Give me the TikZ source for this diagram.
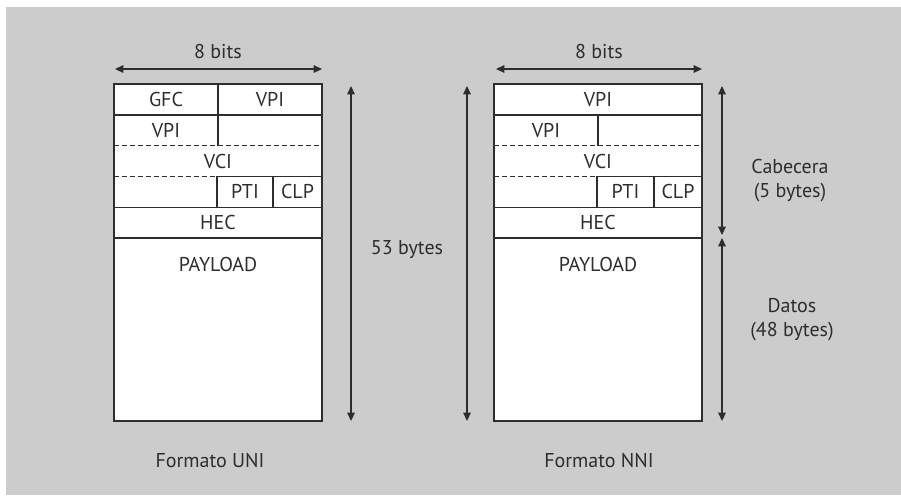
\documentclass[tikz,border=0pt]{standalone}
\usepackage{fontspec}
\setmainfont{PT Sans}
\usepackage{tikz}
\usetikzlibrary{arrows.meta}
\definecolor{bggrey}{RGB}{204,204,204}
\definecolor{inkgrey}{RGB}{45,45,45}

\begin{document}
\begin{tikzpicture}[
  x=0.5pt, y=-0.5pt,
  font=\fontsize{10}{12}\selectfont,
  lbl/.style={inner sep=0pt, text=inkgrey, align=center},
  cellframe/.style={draw=inkgrey, line width=0.7pt, fill=white},
  rule/.style={draw=inkgrey, line width=0.7pt},
  dsh/.style={rule, dash pattern=on 2.5pt off 1.5pt},
  dimar/.style={{Triangle[length=4.2pt,width=3.8pt]}-{Triangle[length=4.2pt,width=3.8pt]}, draw=inkgrey, line width=0.6pt}
]
% ---- background -------------------------------------------------------------
\useasboundingbox (0,0) rectangle (901,495);
\fill[bggrey] (6,7) rectangle (901,495);

% ---- UNI cell ---------------------------------------------------------------
\draw[cellframe] (114,84) rectangle (322,421);
\draw[rule] (114,114.8) -- (322,114.8);
\draw[rule] (218,84) -- (218,145.6);
\draw[dsh] (114,145.6) -- (322,145.6);
\draw[dsh] (114,176.4) -- (217,176.4);
\draw[rule] (217,176.4) -- (322,176.4);
\draw[rule] (217,176.4) -- (217,207.2);
\draw[rule] (273,176.4) -- (273,207.2);
\draw[rule] (114,207.2) -- (322,207.2);
\draw[rule] (114,238) -- (322,238);

\node[lbl] (gfcU) at (166,99.4) {GFC};
\node[lbl] (vpiUa) at (270,99.4) {VPI};
\node[lbl] (vpiUb) at (166,130.2) {VPI};
\node[lbl] (vciU) at (218,161) {VCI};
\node[lbl] (ptiU) at (245,191.8) {PTI};
\node[lbl] (clpU) at (297.5,191.8) {CLP};
\node[lbl] (hecU) at (218,222.6) {HEC};
\node[lbl] (payU) at (218,264) {PAYLOAD};
\node[lbl] (fmtU) at (210,460) {Formato UNI};

% ---- NNI cell ---------------------------------------------------------------
\draw[cellframe] (494,84) rectangle (702,421);
\draw[rule] (494,114.8) -- (702,114.8);
\draw[rule] (598,114.8) -- (598,145.6);
\draw[dsh] (494,145.6) -- (702,145.6);
\draw[dsh] (494,176.4) -- (597,176.4);
\draw[rule] (597,176.4) -- (702,176.4);
\draw[rule] (597,176.4) -- (597,207.2);
\draw[rule] (654,176.4) -- (654,207.2);
\draw[rule] (494,207.2) -- (702,207.2);
\draw[rule] (494,238) -- (702,238);

\node[lbl] (vpiNa) at (598,99.4) {VPI};
\node[lbl] (vpiNb) at (546,130.2) {VPI};
\node[lbl] (vciN) at (598,161) {VCI};
\node[lbl] (ptiN) at (625.5,191.8) {PTI};
\node[lbl] (clpN) at (678,191.8) {CLP};
\node[lbl] (hecN) at (598,222.6) {HEC};
\node[lbl] (payN) at (598,264) {PAYLOAD};
\node[lbl] (fmtN) at (599,460) {Formato NNI};

% ---- dimensions -------------------------------------------------------------
\node[lbl] (bitsU) at (218,51) {8 bits};
\node[lbl] (bitsN) at (599,51) {8 bits};
\node[lbl] (total) at (407,250) {53 bytes};
\node[lbl] (head) at (790,181) {Cabecera\\(5 bytes)};
\node[lbl] (data) at (792,320) {Datos\\(48 bytes)};

\coordinate (bitsUl) at (115,69);
\coordinate (bitsUr) at (322,69);
\coordinate (bitsNl) at (496,69);
\coordinate (bitsNr) at (702,69);
\coordinate (totUt) at (351,86);
\coordinate (totUb) at (351,421);
\coordinate (totNt) at (467,86);
\coordinate (totNb) at (467,421);
\coordinate (headt) at (722,86);
\coordinate (headb) at (722,235);
\coordinate (datat) at (722,238);
\coordinate (datab) at (722,421);

\draw[dimar] (bitsUl) -- (bitsUr);
\draw[dimar] (bitsNl) -- (bitsNr);
\draw[dimar] (totUt) -- (totUb);
\draw[dimar] (totNt) -- (totNb);
\draw[dimar] (headt) -- (headb);
\draw[dimar] (datat) -- (datab);
\end{tikzpicture}
\end{document}
